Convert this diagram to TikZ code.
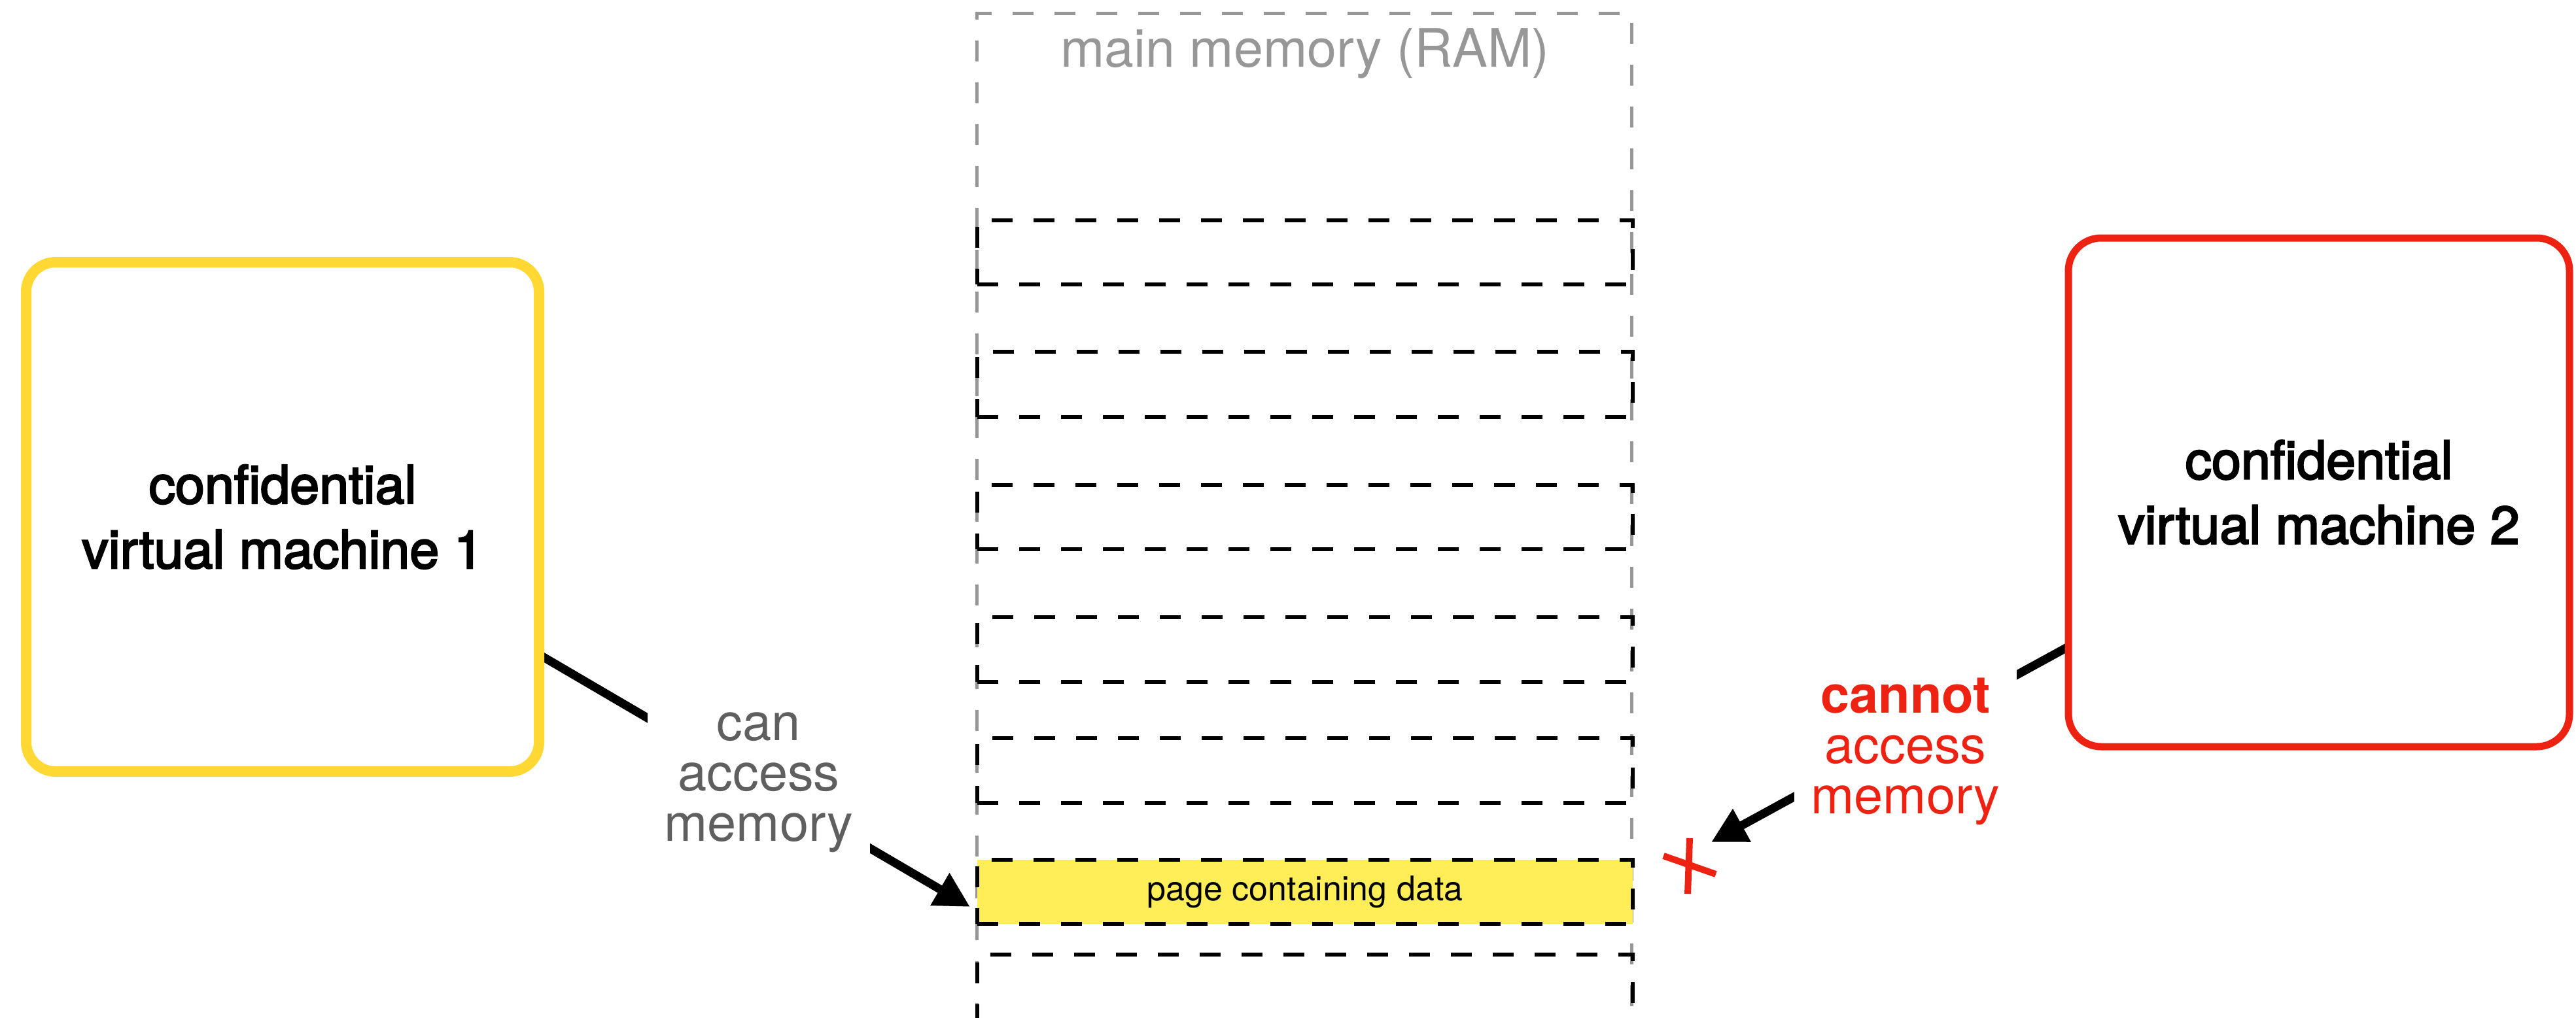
\documentclass[tikz,border=0pt]{standalone}
\usepackage{fontspec}
\setmainfont{TeX Gyre Heros}
\newfontfamily\vmfont[FakeBold=3]{TeX Gyre Heros}
\usetikzlibrary{arrows.meta}
\definecolor{vmyellow}{HTML}{FFD833}
\definecolor{pageyellow}{HTML}{FFEE58}
\definecolor{vmred}{HTML}{EE2212}
\definecolor{ramgray}{HTML}{979797}
\definecolor{labelgray}{HTML}{5F5F5F}
\tikzset{
  vmbox/.style={draw, fill=white, align=center, inner sep=0pt,
    font={\vmfont\fontsize{23}{28.2}\selectfont}},
  ramline/.style={draw=ramgray, line width=0.05cm, dash pattern=on 0.32cm off 0.32cm},
  pagebox/.style={draw=black, line width=0.065cm, dash pattern=on 0.32cm off 0.32cm,
    minimum width=10.02cm, inner sep=0pt, font={\fontsize{14.8}{17}\selectfont}},
  accessarrow/.style={draw=black, line width=0.13cm, -{Triangle[length=0.535cm,width=0.54cm]}},
  sidelabel/.style={fill=white, align=center, inner xsep=0.26cm, inner ysep=0.15cm,
    anchor=north, font={\fontsize{22.6}{21.9}\selectfont}},
  titlelabel/.style={anchor=base, text=ramgray, inner sep=0pt, font={\fontsize{23}{27}\selectfont}},
  xstroke/.style={draw=vmred, line width=0.1cm}
}
\begin{document}
\begin{tikzpicture}
\useasboundingbox (0,0) rectangle (39.38,-15.56);
\clip (0,0) rectangle (39.38,-15.56);

% main memory column
\draw[ramline] (14.93,-16.3) -- (14.93,-0.21) -- (24.94,-0.21) -- (24.94,-16.3);
\node[titlelabel] (title) at (19.95,-1.03) {main memory (RAM)};

% pages
\node[pagebox, minimum height=0.98cm] (p1) at (19.95,-3.86) {};
\node[pagebox, minimum height=1.00cm] (p2) at (19.95,-5.88) {};
\node[pagebox, minimum height=0.98cm] (p3) at (19.95,-7.91) {};
\node[pagebox, minimum height=0.99cm] (p4) at (19.95,-9.935) {};
\node[pagebox, minimum height=0.99cm] (p5) at (19.95,-11.785) {};
\node[pagebox, fill=pageyellow, minimum height=0.98cm] (p6) at (19.95,-13.64) {page containing data};
\node[pagebox, minimum height=1.60cm] (p7) at (19.95,-15.40) {};

% connector end points
\coordinate (s1) at (8.24,-10.01);
\coordinate (t1) at (14.83,-13.87);
\coordinate (s2) at (31.62,-9.89);
\coordinate (t2) at (26.16,-12.88);

% arrows
\draw[accessarrow] (s1) -- (t1);
\draw[accessarrow] (s2) -- (t2);

% virtual machines
\node[vmbox, draw=vmyellow, line width=0.16cm, rounded corners=0.45cm,
  minimum width=7.84cm, minimum height=7.79cm] (vm1) at (4.32,-7.905)
  {confidential\\virtual machine 1};
\node[vmbox, draw=vmred, line width=0.11cm, rounded corners=0.5cm,
  minimum width=7.66cm, minimum height=7.78cm] (vm2) at (35.45,-7.53)
  {confidential\\virtual machine 2};

% labels
\node[sidelabel, text=labelgray] (lab1) at (11.60,-10.63)
  {\strut can\\access\\memory\strut};
\node[sidelabel, text=vmred] (lab2) at (29.13,-10.21)
  {\strut\textbf{cannot}\\access\\memory\strut};

% red cross
\draw[xstroke] (25.83,-12.82) -- (25.80,-13.67);
\draw[xstroke] (25.43,-13.09) -- (26.23,-13.37);
\end{tikzpicture}
\end{document}
